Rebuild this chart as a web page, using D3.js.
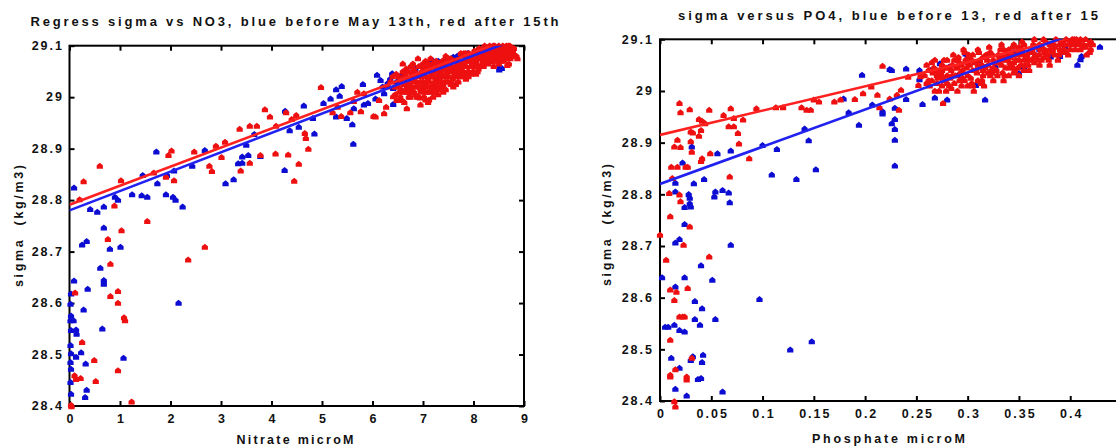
<!DOCTYPE html>
<html><head><meta charset="utf-8">
<script src="https://cdn.jsdelivr.net/npm/d3@7"></script>
<style>
html,body{margin:0;padding:0;background:#fff;overflow:hidden;}
text{font-family:"Liberation Sans",Arial,sans-serif;font-weight:bold;fill:#111;}
</style></head><body>
<svg id="c" width="1116" height="446"></svg>
<script>
// ---------- Left panel: sigma vs Nitrate ----------
const NO3_TITLE = "Regress sigma vs NO3, blue before May 13th, red after 15th";
const NO3_XLABEL = "Nitrate microM";
const YLABEL = "sigma  (kg/m3)";
const NO3_XTICKS = [0,1,2,3,4,5,6,7,8,9];
const NO3_XTICK_LABELS = ["0","1","2","3","4","5","6","7","8","9"];
const SIGMA_TICKS = [28.4,28.5,28.6,28.7,28.8,28.9,29.0,29.1];
const SIGMA_TICK_LABELS = ["28.4","28.5","28.6","28.7","28.8","28.9","29","29.1"];

const NO3_BLUE = [
[0.09,28.824],[0.03,28.618],[0.02,28.598],[0.03,28.575],[0.02,28.566],[0.03,28.547],[0.02,28.518],
[0.03,28.502],[0.02,28.485],[0.03,28.472],[0.02,28.446],[0.03,28.423],[0.09,28.643],[0.08,28.566],
[0.13,28.548],[0.14,28.54],[0.13,28.495],[0.23,28.504],[0.25,28.713],[0.34,28.72],[0.28,28.587],
[0.32,28.482],[0.34,28.431],[0.31,28.417],[0.36,28.627],[0.41,28.782],[0.55,28.777],[0.61,28.668],
[0.68,28.746],[0.68,28.787],[0.68,28.644],[0.68,28.637],[0.65,28.55],[0.80,28.705],[0.90,28.806],
[0.96,28.80],[1.01,28.709],[1.07,28.493],[1.24,28.811],[1.43,28.809],[1.54,28.806],[1.45,28.848],
[1.72,28.894],[1.74,28.832],[1.91,28.811],[1.93,28.848],[2.05,28.806],[2.10,28.80],[2.24,28.787],
[2.16,28.60],[2.07,28.857],[2.43,28.866],[2.68,28.897],[3.09,28.832],[3.25,28.84],[3.34,28.871],
[3.42,28.884],[3.42,28.872],[3.54,28.887],[3.50,28.907],[3.66,28.928],[3.78,28.885],[4.26,28.858],
[4.27,28.973],[4.36,28.935],[4.54,28.942],[4.64,28.983],[4.82,28.959],[4.85,28.929],[5.03,28.988],
[5.17,28.997],[5.28,29.015],[5.28,28.962],[5.35,29.002],[5.39,29.021],[5.49,28.959],[5.60,28.947],
[5.62,28.909],[5.63,28.978],[5.81,29.025],[5.83,28.985],[5.91,28.988],[6.06,28.997],[6.09,29.043],
[6.16,29.033],[6.23,29.007],[6.30,29.027],[6.39,29.046],[6.41,29.017],[6.41,28.986],[6.55,29.041],
[6.76,29.059],[6.97,29.062],[7.18,29.072],[7.47,29.072],[7.68,29.08],[7.89,29.085],[8.10,29.092],
[8.35,29.069],[8.52,29.059],[8.51,29.053],[8.58,29.074],[8.56,29.056],[8.38,29.095],[6.2,29.02],
[6.35,29.035],[6.48,29.03],[6.62,29.05],[6.85,29.055],[7.05,29.065],[7.3,29.07],[7.6,29.078]
];
const NO3_RED = [
[0.03,28.402],[0.04,28.399],[0.10,28.459],[0.13,28.452],[0.22,28.454],[0.11,28.62],[0.25,28.524],
[0.49,28.489],[0.52,28.448],[0.28,28.836],[0.20,28.801],[0.60,28.866],[0.76,28.724],[0.81,28.676],
[0.81,28.613],[0.89,28.789],[0.96,28.623],[0.96,28.60],[0.96,28.469],[1.02,28.838],[1.03,28.741],
[1.08,28.572],[1.10,28.566],[1.23,28.408],[1.54,28.759],[1.67,28.853],[1.91,28.845],[1.96,28.887],
[2.02,28.896],[2.07,28.838],[2.35,28.684],[2.47,28.894],[2.68,28.709],[2.77,28.866],[2.82,28.856],
[2.90,28.905],[3.01,28.883],[3.08,28.913],[3.37,28.938],[3.39,28.857],[3.57,28.872],[3.57,28.944],
[3.71,28.944],[3.78,28.887],[3.87,28.976],[3.97,28.962],[4.08,28.89],[4.09,28.944],[4.29,28.97],
[4.33,28.888],[4.40,28.957],[4.49,28.965],[4.45,28.837],[4.54,28.87],[4.66,28.93],[4.68,28.92],
[4.73,28.899],[4.98,29.019],[5.21,28.97],[5.31,28.981],[5.38,28.963],[5.56,28.97],[5.63,28.992],
[5.70,29.01],[5.77,28.972],[5.83,29.007],[6.02,28.963],[6.06,28.962],[6.13,28.994],[6.23,28.968],
[6.27,28.981],[6.41,29.001],[6.48,28.994],[6.58,28.994],[6.68,28.978],[6.94,28.999],[8.67,29.062],
[8.81,29.082],
[6.50,29.02],[6.52,29.04],[6.55,29.00],[6.58,29.03],[6.60,29.05],[6.62,29.01],[6.63,28.99],[6.65,29.04],
[6.68,29.02],[6.70,29.05],[6.72,29.00],[6.74,29.03],[6.76,29.06],[6.78,29.02],[6.80,29.04],[6.82,29.01],
[6.84,29.05],[6.86,29.03],[6.88,29.00],[6.90,29.04],[6.92,29.06],[6.94,29.02],[6.96,29.01],[6.98,29.05],
[7.00,29.03],[7.02,29.00],[7.04,29.06],[7.06,29.04],[7.08,29.02],[7.10,29.05],[7.12,29.03],[7.14,29.01],
[7.16,29.06],[7.18,29.04],[7.20,29.02],[7.22,29.05],[7.24,29.03],[7.26,29.07],[7.28,29.04],[7.30,29.02],
[7.32,29.06],[7.34,29.05],[7.36,29.03],[7.38,29.07],[7.40,29.04],[7.42,29.06],[7.44,29.03],[7.46,29.05],
[7.48,29.07],[7.50,29.04],[7.52,29.06],[7.55,29.03],[7.58,29.05],[7.60,29.07],[7.62,29.04],[7.65,29.06],
[7.68,29.05],[7.70,29.07],[7.72,29.04],[7.75,29.06],[7.78,29.08],[7.80,29.05],[7.82,29.07],[7.85,29.06],
[7.88,29.08],[7.90,29.05],[7.92,29.07],[7.95,29.06],[7.98,29.08],[8.00,29.06],[8.02,29.09],[8.05,29.07],
[8.08,29.05],[8.10,29.08],[8.12,29.06],[8.15,29.09],[8.18,29.07],[8.20,29.08],[8.22,29.10],[8.25,29.07],
[8.28,29.09],[8.30,29.08],[8.32,29.10],[8.35,29.07],[8.38,29.09],[8.40,29.08],[8.42,29.10],[8.45,29.09],
[8.48,29.07],[8.50,29.10],[8.52,29.08],[8.55,29.09],[8.58,29.10],[8.60,29.08],[8.62,29.09],[8.65,29.10],
[8.68,29.08],[8.70,29.09],[8.72,29.10],[8.75,29.08],[8.78,29.09],[8.85,29.08],[6.66,29.03],[6.70,29.01],
[6.75,29.00],[6.85,29.02],[6.95,29.03],[7.05,29.01],[7.15,29.02],[7.25,29.05],[7.35,29.04],[7.45,29.04],
[7.55,29.05],[7.25,29.01],[7.35,29.02],[7.10,28.99],[6.57,29.015],[6.64,29.045],[6.73,29.025],[6.83,29.035],
[6.93,29.045],[7.03,29.045],[7.13,29.055],[7.23,29.025],[7.33,29.035],[7.43,29.055],[7.53,29.065],[7.63,29.055],
[7.73,29.065],[7.83,29.045],[7.93,29.075],[8.03,29.065],[8.13,29.075],[8.23,29.085],[8.33,29.085],[8.43,29.075],
[8.53,29.095],[8.63,29.085],[8.73,29.075],
[6.36,29.03],[6.44,29.02],[6.47,29.045],[6.53,29.01],[6.56,29.035],[6.61,29.025],[6.67,29.055],[6.69,29.035],
[6.71,29.015],[6.77,29.045],[6.79,29.01],[6.81,29.055],[6.87,29.045],[6.89,29.02],[6.91,29.0],[6.97,29.04],
[6.99,29.02],[7.01,29.055],[7.07,29.03],[7.09,29.01],[7.11,29.065],[7.17,29.045],[7.19,29.015],[7.21,29.04],
[7.27,29.06],[7.29,29.03],[7.31,29.045],[7.37,29.055],[7.39,29.02],[7.41,29.07],[7.47,29.045],[7.49,29.03],
[7.51,29.075],[7.57,29.06],[7.59,29.035],[7.61,29.05],[7.67,29.07],[7.69,29.04],[7.71,29.055],[7.77,29.065],
[7.79,29.045],[7.81,29.085],[7.87,29.07],[7.89,29.05],[7.91,29.085],[7.97,29.065],[7.99,29.05],[8.01,29.075],
[8.07,29.085],[8.09,29.06],[8.11,29.095],[8.17,29.08],[8.19,29.065],[8.21,29.09],[8.27,29.08],[8.29,29.065],
[8.31,29.095],[8.37,29.08],[8.39,29.1],[8.41,29.07],[8.47,29.085],[8.49,29.095],[8.51,29.075],[8.57,29.085],
[8.59,29.095],[8.61,29.075],[8.67,29.09],[8.69,29.1],[8.71,29.08],[8.77,29.085],[8.80,29.095],[8.83,29.08],
[8.87,29.075],[6.95,28.985],[7.05,28.995],[7.20,29.0],[7.30,29.005],[7.45,29.015],[7.65,29.025],[7.40,29.01],
[7.60,29.02],[7.05,29.07],[7.15,29.075],[7.45,29.08],[7.75,29.085],[7.55,29.025],[7.85,29.035],[8.05,29.045],
[6.60,29.065],[6.90,29.075],[7.00,29.015],[7.10,29.035],[7.20,29.065],[7.30,29.055],[7.40,29.025],[7.50,29.055],
[7.60,29.04],[7.70,29.03],[7.80,29.04],[7.90,29.04],[8.00,29.05],[8.10,29.055],[8.20,29.06],[8.30,29.07],
[8.40,29.06],[8.50,29.065],[8.60,29.07],[8.70,29.065],[6.65,29.01],[6.75,29.015],[6.85,29.005],[6.95,29.015],
[7.05,29.025],[7.15,29.04],[7.25,29.035],[7.35,29.065],[7.45,29.065],[7.55,29.075],[7.65,29.045],[7.75,29.05],
[7.85,29.085],[7.95,29.045],[8.05,29.085],[8.15,29.06],[8.25,29.095],[8.35,29.095],[8.45,29.08],[8.55,29.07],
[8.65,29.075],[8.75,29.095],[6.45,29.005],[6.40,29.04],[6.30,29.02],[7.00,29.065],[6.80,29.065],[7.12,28.995],
[7.22,29.01],[7.32,29.015]
];
const NO3_FIT_BLUE = [28.780, 0.0376];   // [intercept, slope]
const NO3_FIT_RED  = [28.791, 0.0370];

// ---------- Right panel: sigma vs Phosphate ----------
const PO4_TITLE = "sigma versus PO4, blue before 13, red after 15";
const PO4_XLABEL = "Phosphate microM";
const PO4_XTICKS = [0,0.05,0.1,0.15,0.2,0.25,0.3,0.35,0.4];
const PO4_XTICK_LABELS = ["0","0.05","0.1","0.15","0.2","0.25","0.3","0.35","0.4"];

const PO4_BLUE = [
[0.002,28.639],[0.005,28.543],[0.008,28.543],[0.011,28.483],[0.014,28.547],[0.015,28.621],[0.015,28.706],
[0.015,28.822],[0.015,28.805],[0.015,28.423],[0.019,28.464],[0.019,28.713],[0.019,28.537],[0.022,28.861],
[0.024,28.775],[0.024,28.742],[0.024,28.534],[0.024,28.639],[0.026,28.41],[0.028,28.80],[0.029,28.793],
[0.029,28.782],[0.030,28.776],[0.031,28.892],[0.030,28.479],[0.032,28.486],[0.033,28.821],[0.034,28.558],
[0.034,28.593],[0.037,28.442],[0.040,28.444],[0.039,28.547],[0.040,28.662],[0.041,28.579],[0.041,28.475],
[0.042,28.489],[0.043,28.829],[0.051,28.634],[0.053,28.795],[0.054,28.805],[0.054,28.558],[0.056,28.879],
[0.061,28.808],[0.061,28.418],[0.067,28.803],[0.068,28.784],[0.069,28.702],[0.069,28.884],[0.097,28.597],
[0.100,28.895],[0.109,28.838],[0.114,28.887],[0.127,28.499],[0.133,28.829],[0.141,28.927],[0.145,28.904],
[0.148,28.515],[0.152,28.848],[0.179,28.985],[0.184,28.958],[0.194,28.934],[0.197,29.031],[0.207,28.973],
[0.217,28.960],[0.217,28.956],[0.224,29.042],[0.226,29.040],[0.226,28.937],[0.229,28.945],[0.229,28.967],
[0.229,28.926],[0.229,28.905],[0.229,28.855],[0.240,29.043],[0.240,28.984],[0.253,29.040],[0.253,29.022],
[0.256,28.974],[0.264,29.040],[0.268,28.987],[0.273,29.053],[0.280,28.983],[0.298,29.072],[0.308,29.011],
[0.317,28.983],[0.327,29.047],[0.338,29.066],[0.350,29.034],[0.355,29.047],[0.366,29.069],[0.381,29.066],
[0.390,29.067],[0.407,29.050],[0.410,29.061],[0.411,29.067],[0.429,29.085],[0.404,29.092],[0.282,29.047],
[0.300,29.066],[0.312,29.058],[0.290,29.030],[0.320,29.070],[0.345,29.075],[0.370,29.080],[0.395,29.085]
];
const PO4_RED = [
[0.000,28.721],[0.006,28.673],[0.010,28.615],[0.010,28.518],[0.010,28.450],[0.010,28.447],[0.010,28.757],
[0.009,28.802],[0.011,28.853],[0.012,28.831],[0.014,28.595],[0.014,28.399],[0.015,28.389],[0.015,28.461],
[0.016,28.611],[0.017,28.905],[0.014,28.892],[0.017,28.853],[0.019,28.563],[0.019,28.799],[0.019,28.976],
[0.020,28.958],[0.020,28.786],[0.020,28.891],[0.022,28.563],[0.023,28.702],[0.024,28.563],[0.025,28.853],
[0.026,28.447],[0.026,28.441],[0.027,28.853],[0.027,28.618],[0.029,28.737],[0.029,28.964],[0.030,28.921],
[0.030,28.902],[0.031,28.882],[0.031,28.483],[0.032,28.919],[0.038,28.913],[0.038,28.945],[0.040,28.924],
[0.040,28.864],[0.041,28.869],[0.041,28.942],[0.044,28.937],[0.048,28.679],[0.048,28.963],[0.049,28.879],
[0.062,28.953],[0.067,28.931],[0.068,28.834],[0.069,28.966],[0.072,28.931],[0.072,28.947],[0.076,28.918],
[0.077,28.898],[0.081,28.944],[0.087,28.869],[0.094,28.966],[0.113,28.968],[0.120,28.968],[0.138,28.968],
[0.143,28.963],[0.147,28.963],[0.150,28.983],[0.155,28.979],[0.170,28.979],[0.176,28.983],[0.190,28.984],
[0.198,28.995],[0.206,29.008],[0.212,28.992],[0.214,28.968],[0.217,29.048],[0.224,28.985],[0.231,28.992],
[0.233,28.963],[0.235,29.002],[0.242,29.027],[0.252,29.011],[0.254,29.028],[0.276,28.976],
[0.265,29.02],[0.270,29.04],[0.272,29.00],[0.275,29.05],[0.278,29.02],[0.280,29.03],[0.282,29.01],[0.285,29.05],
[0.288,29.03],[0.290,29.06],[0.292,29.02],[0.295,29.04],[0.298,29.06],[0.300,29.03],[0.302,29.05],[0.305,29.07],
[0.308,29.04],[0.310,29.02],[0.312,29.06],[0.315,29.04],[0.318,29.07],[0.320,29.05],[0.322,29.03],[0.325,29.06],
[0.328,29.04],[0.330,29.07],[0.333,29.05],[0.336,29.03],[0.338,29.06],[0.340,29.08],[0.343,29.05],[0.346,29.04],
[0.348,29.07],[0.350,29.06],[0.353,29.08],[0.356,29.05],[0.358,29.07],[0.360,29.06],[0.363,29.08],[0.366,29.07],
[0.370,29.09],[0.372,29.06],[0.375,29.08],[0.378,29.07],[0.380,29.09],[0.383,29.08],[0.386,29.10],[0.390,29.08],
[0.393,29.09],[0.396,29.10],[0.400,29.08],[0.403,29.09],[0.406,29.10],[0.410,29.08],[0.413,29.09],[0.416,29.07],
[0.420,29.08],[0.300,29.01],[0.280,29.06],[0.290,29.00],[0.310,29.08],[0.325,29.02],[0.340,29.03],[0.360,29.04],
[0.286,29.07],[0.296,29.08],[0.306,29.00],[0.316,29.01],[0.332,29.08],[0.350,29.03],[0.370,29.05],[0.388,29.06],
[0.275,29.01],[0.262,29.04],[0.268,29.06],[0.398,29.07],[0.410,29.10],[0.418,29.09],[0.345,29.09],[0.365,29.10],
[0.380,29.05],[0.284,29.04],[0.294,29.05],[0.304,29.06],[0.314,29.05],[0.324,29.07],[0.334,29.06],[0.344,29.07],
[0.354,29.07],[0.364,29.09],[0.374,29.10],[0.384,29.09],[0.394,29.08],[0.404,29.10],[0.271,29.025],[0.279,29.045],
[0.258,29.03],[0.260,29.05],[0.263,29.01],[0.267,29.045],[0.270,29.015],[0.273,29.03],[0.277,29.06],[0.279,29.00],
[0.281,29.045],[0.283,29.025],[0.287,29.015],[0.289,29.045],[0.291,29.065],[0.293,29.035],[0.297,29.02],[0.299,29.045],
[0.301,29.07],[0.303,29.025],[0.307,29.055],[0.309,29.035],[0.311,29.075],[0.313,29.015],[0.317,29.045],[0.319,29.06],
[0.321,29.085],[0.323,29.04],[0.327,29.055],[0.329,29.03],[0.331,29.065],[0.335,29.08],[0.337,29.045],[0.339,29.07],
[0.341,29.055],[0.344,29.085],[0.347,29.06],[0.349,29.045],[0.351,29.075],[0.355,29.09],[0.357,29.065],[0.359,29.05],
[0.362,29.075],[0.367,29.085],[0.369,29.06],[0.371,29.08],[0.376,29.095],[0.379,29.06],[0.382,29.075],[0.385,29.085],
[0.389,29.07],[0.391,29.095],[0.395,29.075],[0.399,29.09],[0.402,29.10],[0.405,29.08],[0.408,29.095],[0.412,29.085],
[0.415,29.10],[0.419,29.075],[0.422,29.09],[0.305,29.01],[0.315,29.03],[0.335,29.02],[0.345,29.035],[0.355,29.04],
[0.365,29.055],[0.375,29.065],[0.262,29.02],[0.268,29.00],[0.274,29.035],[0.333,29.09],[0.353,29.095],[0.297,29.075],
[0.287,29.06],
[0.260,29.015],[0.265,29.055],[0.270,29.03],[0.275,29.04],[0.280,29.015],[0.285,29.03],[0.290,29.045],[0.295,29.025],
[0.300,29.055],[0.305,29.04],[0.310,29.05],[0.315,29.065],[0.320,29.035],[0.325,29.045],[0.330,29.055],[0.335,29.065],
[0.340,29.045],[0.345,29.055],[0.350,29.085],[0.355,29.06],[0.360,29.075],[0.365,29.065],[0.370,29.07],[0.375,29.075],
[0.380,29.08],[0.385,29.07],[0.390,29.09],[0.395,29.09],[0.400,29.095],[0.405,29.09],[0.410,29.09],[0.415,29.085],
[0.420,29.095],[0.284,29.005],[0.294,29.01],[0.304,29.015],[0.314,29.02],[0.324,29.035],[0.334,29.035],[0.344,29.045],
[0.292,29.055],[0.302,29.065],[0.312,29.045],[0.322,29.075],[0.342,29.065],[0.352,29.05],[0.362,29.06],[0.372,29.085],
[0.392,29.075],[0.276,29.025],[0.266,29.035]
];
const PO4_FIT_BLUE = [28.820, 0.720];
const PO4_FIT_RED  = [28.915, 0.470];

const BLUE = "#0c0cd2", RED = "#ee1010";
const BLUE_LINE = "#2222f0", RED_LINE = "#ff2020";

const svg = d3.select("#c");
const MARK = "M0,-3.3L3.1,-0.8L3.1,2.7L-3.1,2.7L-3.1,-0.8Z";

function panel(cfg){
  const x = d3.scaleLinear().domain(cfg.xDomain).range([cfg.left, cfg.right]);
  const y = d3.scaleLinear().domain(d3.extent(SIGMA_TICKS)).range([cfg.bottom, cfg.top]);
  const g = svg.append("g");
  const clipId = "clip" + cfg.id;
  svg.append("clipPath").attr("id", clipId).append("rect")
    .attr("x", cfg.left).attr("y", cfg.top)
    .attr("width", cfg.right - cfg.left).attr("height", cfg.bottom - cfg.top);

  // frame
  g.append("rect").attr("x", cfg.left).attr("y", cfg.top)
    .attr("width", cfg.right - cfg.left).attr("height", cfg.bottom - cfg.top)
    .attr("fill", "none").attr("stroke", "#000").attr("stroke-width", 2);

  const style = sel => {
    sel.select(".domain").remove();
    sel.selectAll(".tick line").attr("stroke", "#000").attr("stroke-width", 2);
    sel.selectAll(".tick text").attr("font-size", 12.5).attr("letter-spacing", "2px")
       .style("font-family", "'Liberation Sans', Arial, sans-serif").attr("font-weight", "bold").attr("fill", "#111");
  };
  const xfmt = (d) => cfg.xLabels[cfg.xTicks.indexOf(d)];
  const yfmt = (d) => SIGMA_TICK_LABELS[SIGMA_TICKS.indexOf(d)];

  g.append("g").attr("transform", `translate(0,${cfg.bottom})`)
    .call(d3.axisBottom(x).tickValues(cfg.xTicks).tickFormat(xfmt).tickSize(-5).tickPadding(8))
    .call(style).selectAll(".tick text").attr("dx", "1px");
  g.append("g").attr("transform", `translate(0,${cfg.top})`)
    .call(d3.axisTop(x).tickValues(cfg.xTicks).tickFormat("").tickSize(-5)).call(style);
  g.append("g").attr("transform", `translate(${cfg.left},0)`)
    .call(d3.axisLeft(y).tickValues(SIGMA_TICKS).tickFormat(yfmt).tickSize(-5).tickPadding(cfg.yPad))
    .call(style).selectAll(".tick text").attr("dy", "0.3em");
  g.append("g").attr("transform", `translate(${cfg.right},0)`)
    .call(d3.axisRight(y).tickValues(SIGMA_TICKS).tickFormat("").tickSize(-5)).call(style);

  // points
  g.append("g").selectAll("path").data(cfg.blue).join("path")
    .attr("d", MARK).attr("fill", BLUE)
    .attr("transform", d => `translate(${x(d[0])},${y(d[1])})`);
  g.append("g").selectAll("path").data(cfg.red).join("path")
    .attr("d", MARK).attr("fill", RED)
    .attr("transform", d => `translate(${x(d[0])},${y(d[1])})`);

  // regression lines
  const line = d3.line().x(d => x(d[0])).y(d => y(d[1]));
  const fitPts = f => [cfg.xDomain[0], cfg.xDomain[1]].map(v => [v, f[0] + f[1] * v]);
  const lg = g.append("g").attr("clip-path", `url(#${clipId})`);
  lg.append("path").attr("d", line(fitPts(cfg.fitRed))).attr("stroke", RED_LINE)
    .attr("stroke-width", 2.6).attr("fill", "none");
  lg.append("path").attr("d", line(fitPts(cfg.fitBlue))).attr("stroke", BLUE_LINE)
    .attr("stroke-width", 2.6).attr("fill", "none");

  // titles
  g.append("text").attr("x", cfg.titleX).attr("y", cfg.titleY).attr("text-anchor", "middle")
    .attr("font-size", 13).attr("textLength", cfg.titleLen).attr("lengthAdjust", "spacing")
    .text(cfg.title);
  g.append("text").attr("x", (cfg.xlabX)).attr("y", cfg.xlabY).attr("text-anchor", "middle")
    .attr("font-size", 12.5).attr("textLength", cfg.xlabLen).attr("lengthAdjust", "spacing")
    .text(cfg.xlabel);
  g.append("text").attr("transform", `translate(${cfg.ylabX},${cfg.ylabY}) rotate(-90)`)
    .attr("text-anchor", "middle").attr("font-size", 12.5)
    .attr("textLength", 122).attr("lengthAdjust", "spacing")
    .style("white-space", "pre").text(YLABEL);
}

panel({id: "L", xDomain: [0, 9], xTicks: NO3_XTICKS, xLabels: NO3_XTICK_LABELS,
  left: 69.5, right: 524, top: 45.7, bottom: 406, yPad: 5.5,
  blue: NO3_BLUE, red: NO3_RED, fitBlue: NO3_FIT_BLUE, fitRed: NO3_FIT_RED,
  title: NO3_TITLE, titleX: 294.5, titleY: 25.5, titleLen: 528,
  xlabel: NO3_XLABEL, xlabX: 295, xlabY: 444, xlabLen: 117,
  ylabX: 23, ylabY: 226});

panel({id: "R", xDomain: [0, 0.45], xTicks: PO4_XTICKS, xLabels: PO4_XTICK_LABELS,
  left: 660, right: 1121.5, top: 39.3, bottom: 401, yPad: 6,
  blue: PO4_BLUE, red: PO4_RED, fitBlue: PO4_FIT_BLUE, fitRed: PO4_FIT_RED,
  title: PO4_TITLE, titleX: 888, titleY: 19.5, titleLen: 420,
  xlabel: PO4_XLABEL, xlabX: 888.5, xlabY: 443, xlabLen: 153,
  ylabX: 611, ylabY: 225});
</script>
</body></html>
